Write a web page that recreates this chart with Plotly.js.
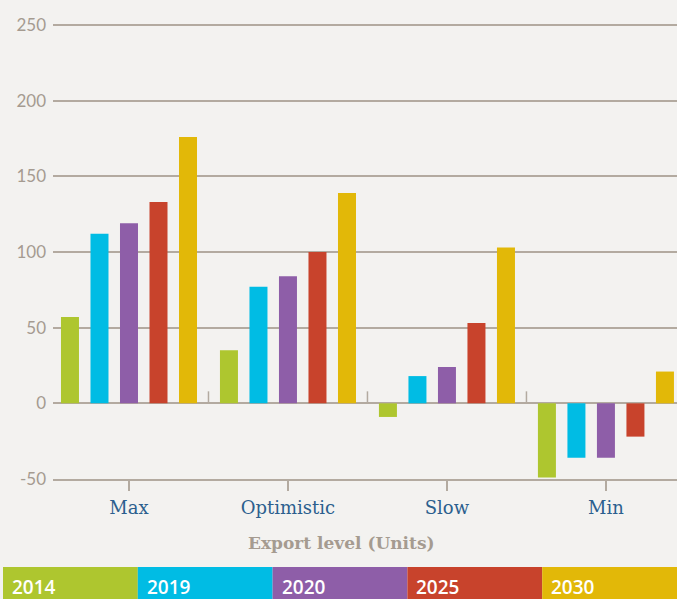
<!DOCTYPE html>
<html>
<head>
<meta charset="utf-8">
<script src="https://cdn.plot.ly/plotly-3.0.1.min.js"></script>
<style>html,body{margin:0;padding:0;background:#f3f2f0;}#chart{width:677px;height:599px;}</style>
</head>
<body>
<div id="chart"></div>
<script>
const categories = ["Max", "Optimistic", "Slow", "Min"];
const seriesNames = ["2014", "2019", "2020", "2025", "2030"];
const v2014 = [57, 35, -9, -49];
const v2019 = [112, 77, 18, -36];
const v2020 = [119, 84, 24, -36];
const v2025 = [133, 100, 53, -22];
const v2030 = [176, 139, 103, 21];
const seriesValues = [v2014, v2019, v2020, v2025, v2030];
const colors = ["#aec62f", "#00bce4", "#8e5ea8", "#c8432c", "#e2b808"];
const yTicks = [-50, 0, 50, 100, 150, 200, 250];

const traces = seriesNames.map((name, i) => ({
  type: "bar",
  name: name,
  x: categories,
  y: seriesValues[i],
  marker: {color: colors[i], line: {width: 0}},
  hoverinfo: "x+y+name"
}));

// plot-area pixel geometry
const L = 53, R = 0, T = 0, B = 120, W = 677, H = 599;
const pw = W - L - R, ph = H - T - B;
const px2paperX = p => (p - L) / pw;
const px2paperY = p => (H - B - p) / ph;

const shapes = [];
const annotations = [];
// small divider ticks between categories at zero line
for (let i = 1; i < categories.length; i++) {
  shapes.push({type: "line", xref: "x", yref: "y", x0: i - 0.5, x1: i - 0.5,
    ysizemode: "pixel", yanchor: 0, y0: 0, y1: 12,
    line: {color: "#b3aaa0", width: 1.5}});
}
// legend band
const bandLeft = 3, bandTop = 567, bandBottom = 599;
const bw = (W - bandLeft) / seriesNames.length;
seriesNames.forEach((name, i) => {
  shapes.push({type: "rect", xref: "paper", yref: "paper",
    x0: px2paperX(bandLeft + i * bw), x1: px2paperX(bandLeft + (i + 1) * bw),
    y0: px2paperY(bandBottom), y1: px2paperY(bandTop),
    fillcolor: colors[i], line: {width: 0}, layer: "above"});
  annotations.push({xref: "paper", yref: "paper",
    x: px2paperX(bandLeft + i * bw + 7), y: px2paperY(586.5),
    xanchor: "left", yanchor: "middle", showarrow: false, text: name,
    font: {family: "Open Sans", size: 19, color: "#ffffff", weight: 600}});
});
annotations.push({xref: "paper", yref: "paper", x: px2paperX(341.5), y: px2paperY(543),
  xanchor: "center", yanchor: "middle", showarrow: false,
  text: "<b>Export level (Units)</b>",
  font: {family: "DejaVu Serif", size: 17, color: "#a59b90"}});

const layout = {
  width: W, height: H,
  margin: {l: L, r: R, t: T, b: B, pad: 0},
  paper_bgcolor: "#f3f2f0",
  plot_bgcolor: "#f3f2f0",
  showlegend: false,
  barmode: "group",
  bargap: 0.072,
  bargroupgap: 0.39,
  xaxis: {
    type: "category",
    range: [-0.478, 3.447],
    showgrid: false,
    showline: true, linecolor: "#b3aaa0", linewidth: 2,
    ticks: "outside", ticklen: 10, tickcolor: "#b3aaa0", tickwidth: 1.5,
    ticklabelstandoff: 1,
    tickfont: {family: "DejaVu Serif", size: 18, color: "#2b5f8e"},
    zeroline: false
  },
  yaxis: {
    range: [-50, 266.5],
    tickvals: yTicks,
    ticktext: yTicks.map(String),
    showgrid: true, gridcolor: "#b3aaa0", gridwidth: 1.8,
    zeroline: true, zerolinecolor: "#b3aaa0", zerolinewidth: 1.8,
    showline: false,
    ticks: "",
    ticklabelstandoff: 6,
    tickfont: {family: "Lato, sans-serif", size: 17, color: "#a59b90"}
  },
  shapes: shapes,
  annotations: annotations
};

Plotly.newPlot("chart", traces, layout, {displayModeBar: false, staticPlot: true});
</script>
</body>
</html>
